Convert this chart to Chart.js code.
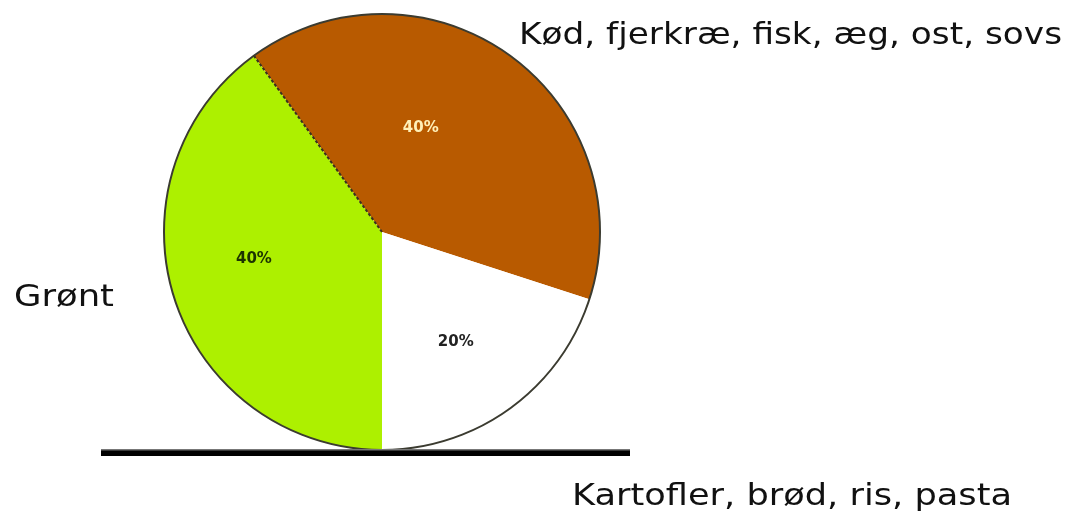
<!DOCTYPE html>
<html>
<head>
<meta charset="utf-8">
<script src="https://cdn.jsdelivr.net/npm/chart.js@4/dist/chart.umd.min.js"></script>
<style>
  html, body { margin: 0; padding: 0; background: #fff; }
  #wrap { width: 1081px; height: 523px; }
</style>
</head>
<body>
<div id="wrap"><canvas id="pie" width="1081" height="523"></canvas></div>
<script>
// ===== data =====
const categories = ['Kød, fjerkræ, fisk, æg, ost, sovs', 'Kartofler, brød, ris, pasta', 'Grønt'];
const shares = [40, 20, 40];
const shareLabels = ['40%', '20%', '40%'];

// ===== styles =====
const sliceColors = ['#B85A00', '#FFFFFF', '#ADF000'];
const valueColors = ['#FFF0B8', '#222222', '#1C3300'];
const valueNudge = [[-33, -5], [2, 11], [-12, -11]];    // small shifts for the % texts
const outsideText = [
  { x: 519, y: 36, w: 543 },
  { x: 572, y: 497, w: 440 },
  { x: 14, y: 298, w: 100 }
];
const labelFont = '31px "DejaVu Sans"';

// outline, separator and base line drawn on top of the pie
const decor = {
  id: 'decor',
  afterDatasetsDraw(chart) {
    const ctx = chart.ctx;
    const arcs = chart.getDatasetMeta(0).data;
    const a0 = arcs[0];
    const cx = a0.x, cy = a0.y, r = a0.outerRadius;

    ctx.save();
    // dashed edge between brown and green slices
    ctx.strokeStyle = '#3a3020';
    ctx.lineWidth = 2;
    ctx.setLineDash([3, 2]);
    ctx.beginPath();
    ctx.moveTo(cx, cy);
    ctx.lineTo(cx + Math.cos(a0.startAngle) * r, cy + Math.sin(a0.startAngle) * r);
    ctx.stroke();
    ctx.setLineDash([]);

    // outer rim
    ctx.strokeStyle = '#3b3b30';
    ctx.lineWidth = 2;
    ctx.beginPath();
    ctx.arc(cx, cy, r, 0, Math.PI * 2);
    ctx.stroke();

    // percentage texts
    ctx.font = 'bold 15px "DejaVu Sans"';
    ctx.textAlign = 'center';
    ctx.textBaseline = 'middle';
    arcs.forEach((arc, i) => {
      const mid = (arc.startAngle + arc.endAngle) / 2;
      const d = r * 0.56;
      ctx.fillStyle = valueColors[i];
      ctx.fillText(shareLabels[i], cx + Math.cos(mid) * d + valueNudge[i][0], cy + Math.sin(mid) * d + valueNudge[i][1]);
    });

    // base line under the pie
    ctx.fillStyle = '#000';
    ctx.fillRect(101, 450, 529, 6);
    ctx.fillStyle = '#777';
    ctx.fillRect(101, 449, 529, 1.5);

    // category names, stretched a little to the wide lettering
    ctx.font = labelFont;
    ctx.fillStyle = '#111';
    ctx.textAlign = 'left';
    ctx.textBaseline = 'middle';
    categories.forEach((c, i) => {
      const t = outsideText[i];
      const sx = t.w / ctx.measureText(c).width;
      ctx.save();
      ctx.translate(t.x, t.y);
      ctx.scale(sx, 1);
      ctx.fillText(c, 0, 0);
      ctx.restore();
    });
    ctx.restore();
  }
};

new Chart(document.getElementById('pie'), {
  type: 'pie',
  data: {
    labels: categories,
    datasets: [{
      data: shares,
      backgroundColor: sliceColors,
      borderWidth: 0,
      hoverOffset: 0,
      offset: 0
    }]
  },
  options: {
    responsive: false,
    animation: false,
    rotation: -36,
    layout: { padding: { left: 164, top: 14, right: 481, bottom: 73 } },
    plugins: { legend: { display: false }, tooltip: { enabled: false } },
    events: []
  },
  plugins: [decor]
});
</script>
</body>
</html>
